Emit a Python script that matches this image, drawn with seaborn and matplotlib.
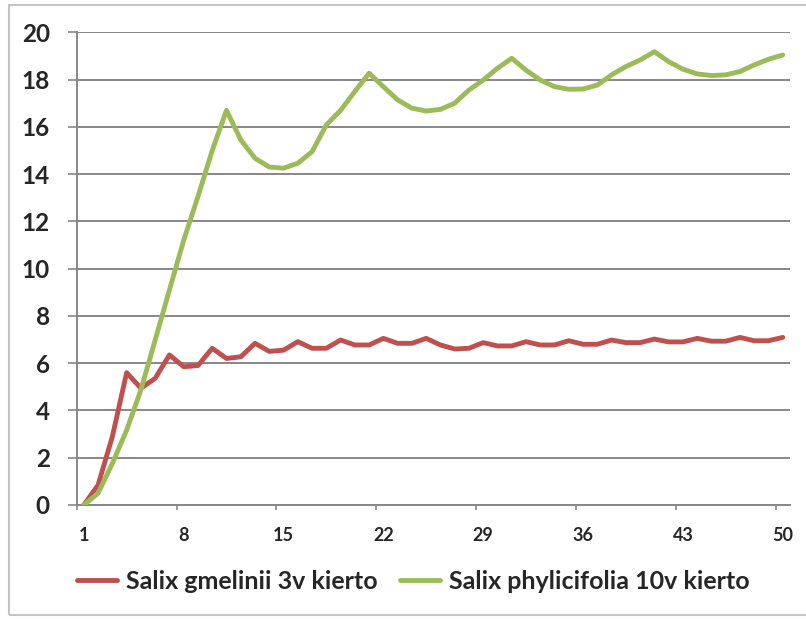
import matplotlib
matplotlib.use('Agg')
import matplotlib.pyplot as plt
from matplotlib.patches import Rectangle
import seaborn as sns
import pandas as pd
import numpy as np

YEARS = list(range(1, 51))
GMELINII = [
    0.0, 0.85, 2.9, 5.6, 4.94, 5.36, 6.35, 5.85, 5.9, 6.63,
    6.2, 6.27, 6.84, 6.5, 6.55, 6.91, 6.63, 6.63, 6.98, 6.77,
    6.77, 7.05, 6.84, 6.84, 7.05, 6.77, 6.6, 6.63, 6.87, 6.73,
    6.73, 6.91, 6.77, 6.77, 6.95, 6.8, 6.8, 6.98, 6.87, 6.87,
    7.02, 6.9, 6.9, 7.05, 6.93, 6.93, 7.09, 6.95, 6.95, 7.09,
]
PHYLICIFOLIA = [
    0.0, 0.5, 1.76, 3.17, 4.87, 6.98, 9.1, 11.2, 13.05, 15.0,
    16.7, 15.45, 14.67, 14.3, 14.25, 14.46, 14.95, 16.08, 16.7, 17.5,
    18.27, 17.7, 17.14, 16.79, 16.67, 16.74, 17.0, 17.56, 17.98, 18.48,
    18.9, 18.4, 17.98, 17.7, 17.59, 17.6, 17.77, 18.2, 18.55, 18.83,
    19.18, 18.76, 18.44, 18.24, 18.17, 18.2, 18.34, 18.62, 18.86, 19.04,
]
SERIES = ['Salix gmelinii 3v kierto', 'Salix phylicifolia 10v kierto']
COLORS = ['#C0504D', '#9BBB59']
X_LABELS = [1, 8, 15, 22, 29, 36, 43, 50]
Y_TICKS = list(range(0, 21, 2))
GRID_GREY = '#878787'

df = pd.DataFrame({
    'year': YEARS * 2,
    'value': GMELINII + PHYLICIFOLIA,
    'series': [SERIES[0]] * len(YEARS) + [SERIES[1]] * len(YEARS),
})

sns.set_theme(style='white')
plt.rcParams['font.family'] = ['Lato', 'DejaVu Sans']

fig = plt.figure(figsize=(8.06, 6.19), dpi=100)
ax = fig.add_axes([0.0952, 0.1842, 0.8848, 0.7636])

sns.lineplot(data=df, x='year', y='value', hue='series', hue_order=SERIES,
             palette=COLORS, linewidth=3.5, ax=ax, zorder=3)

ax.set_xlim(0.5, 50.5)
ax.set_ylim(0, 20)
ax.set_yticks(Y_TICKS)
ax.set_yticklabels([str(v) for v in Y_TICKS], fontsize=17.5, fontweight='bold')
ax.yaxis.grid(True, color=GRID_GREY, linewidth=1.4, zorder=0)
ax.xaxis.grid(False)

# tick marks between categories, labels on categories
ax.set_xticks([v - 0.5 for v in X_LABELS])
ax.set_xticklabels([])
ax.set_xticks(X_LABELS, minor=True)
ax.set_xticklabels([str(v) for v in X_LABELS], minor=True,
                   fontsize=13, fontweight='bold')
ax.tick_params(axis='x', which='major', direction='out', length=3.6,
               width=1.2, color=GRID_GREY, bottom=True)
ax.tick_params(axis='x', which='minor', length=0, pad=15.5, bottom=True)
ax.tick_params(axis='y', direction='out', length=6.5, width=1.2,
               color=GRID_GREY, left=True, pad=13)
ax.set_xlabel('')
ax.set_ylabel('')

for side in ['top', 'right']:
    ax.spines[side].set_visible(False)
for side in ['left', 'bottom']:
    ax.spines[side].set_color(GRID_GREY)
    ax.spines[side].set_linewidth(1.4)

sns.move_legend(ax, 'center', bbox_to_anchor=(0.472, -0.161), ncol=2,
                frameon=False, title=None,
                prop={'size': 18, 'weight': 'bold'},
                handlelength=1.6, handletextpad=0.35, columnspacing=0.9)

fig.patches.append(Rectangle((9 / 806, 1 - 615 / 619), 1.0, 1 - 5 / 619 - (1 - 615 / 619),
                             transform=fig.transFigure, fill=False,
                             edgecolor='#C4C4C4', linewidth=1.5))

fig.savefig('out.png', dpi=100)
